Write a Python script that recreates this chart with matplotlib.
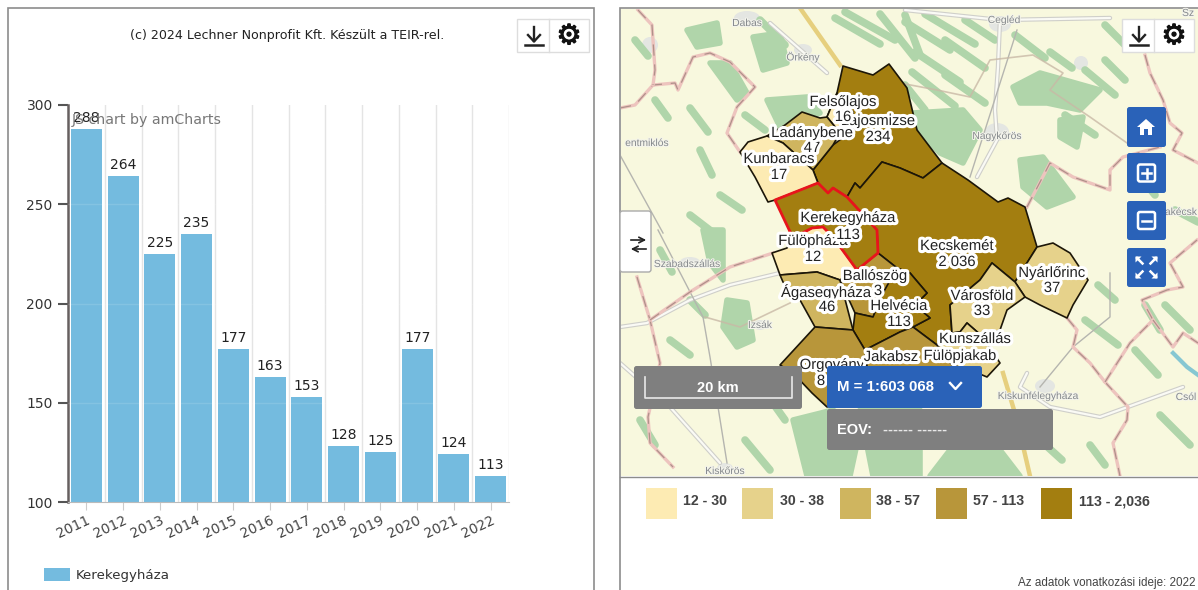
import matplotlib
matplotlib.use("Agg")
import matplotlib.pyplot as plt
import matplotlib.patheffects as pe
from matplotlib.patches import Rectangle, FancyBboxPatch, Polygon, Ellipse

# ----------------------------------------------------------
# Bar chart data
# ----------------------------------------------------------
years = ["2011", "2012", "2013", "2014", "2015", "2016",
         "2017", "2018", "2019", "2020", "2021", "2022"]
values = [288, 264, 225, 235, 177, 163, 153, 128, 125, 177, 124, 113]
y_ticks = [100, 150, 200, 250, 300]

# ----------------------------------------------------------
# Map legend
# ----------------------------------------------------------
legend_labels = ["12 - 30", "30 - 38", "38 - 57", "57 - 113", "113 - 2,036"]
legend_colors = ["#FDEBB3", "#E6D28B", "#CFB55F", "#B8963A", "#A37E10"]
C1, C2, C3, C4, C5 = legend_colors

# ----------------------------------------------------------
# Municipalities (outline in picture pixels, class colour)
# ----------------------------------------------------------
municipalities = [
    ("Lajosmizse", C5, [(843, 66), (873, 75), (889, 64), (907, 88), (917, 130), (942, 163), (923, 178),
                        (900, 168), (882, 162), (860, 188), (855, 183), (847, 197), (833, 188), (828, 193),
                        (818, 183), (813, 170), (833, 145), (853, 130), (827, 117), (837, 93)]),
    ("Felsolajos", C1, [(827, 117), (837, 93), (853, 112), (853, 130), (840, 133)]),
    ("Ladanybene", C3, [(785, 125), (802, 112), (820, 118), (827, 117), (840, 133), (833, 145), (813, 170),
                        (783, 143), (767, 136)]),
    ("Kunbaracs", C1, [(740, 152), (748, 142), (767, 136), (783, 143), (813, 170), (818, 183), (775, 200),
                       (768, 202), (755, 177)]),
    ("Kecskemet", C5, [(882, 162), (900, 168), (923, 178), (942, 163), (968, 180), (998, 202), (1008, 198),
                       (1025, 207), (1037, 247), (1015, 282), (992, 263), (980, 280), (950, 305), (952, 333),
                       (937, 345), (913, 327), (930, 318), (915, 305), (927, 293), (910, 273), (897, 268),
                       (878, 253), (877, 230), (847, 197), (855, 183), (860, 188)]),
    ("Fulophaza", C1, [(772, 253), (787, 248), (793, 238), (812, 228), (823, 227), (833, 237), (857, 270),
                       (840, 280), (817, 272), (780, 275)]),
    ("Agasegyhaza", C3, [(780, 275), (817, 272), (840, 280), (853, 330), (815, 327), (800, 300), (783, 282)]),
    ("Ballosz", C4, [(857, 270), (878, 253), (897, 268), (887, 290), (873, 317), (855, 313), (840, 280)]),
    ("Helvecia", C5, [(853, 330), (855, 313), (873, 317), (883, 293), (897, 268), (910, 273), (927, 293),
                      (915, 305), (930, 318), (913, 327), (900, 332), (865, 350)]),
    ("Nyarlorinc", C2, [(1037, 247), (1053, 243), (1070, 253), (1088, 280), (1073, 305), (1067, 318),
                        (1040, 305), (1025, 297), (1015, 282)]),
    ("Varosfold", C2, [(992, 263), (1015, 282), (1025, 297), (1007, 310), (1000, 330), (983, 337), (967, 323),
                       (960, 332), (952, 333), (950, 305), (980, 280)]),
    ("Kunszallas", C2, [(952, 333), (960, 332), (967, 323), (983, 337), (1000, 363), (987, 377), (975, 372),
                        (952, 365), (937, 345)]),
    ("Jakabszallas", C4, [(865, 350), (900, 332), (913, 327), (937, 345), (952, 365), (975, 372), (960, 395),
                          (870, 395)]),
    ("Orgovany", C4, [(780, 365), (815, 327), (853, 330), (865, 350), (870, 395), (827, 407), (812, 393),
                      (793, 373)]),
]
selected_outline = [(775, 200), (818, 183), (828, 193), (833, 188), (847, 197), (877, 230), (878, 253),
                    (857, 270), (833, 237), (823, 227), (812, 228), (793, 238)]

# name, x, y -- drawn in this order, later ones cover earlier ones
map_labels = [
    ("Lajosmizse", 878, 121), ("234", 878, 137),
    ("Felsőlajos", 843, 102), ("16", 843, 117),
    ("47", 812, 148), ("Ladánybene", 812, 133),
    ("Kunbaracs", 779, 159), ("17", 779, 175),
    ("Fülöpháza", 813, 241), ("12", 813, 257),
    ("Kerekegyháza", 848, 218), ("113", 848, 235),
    ("3", 878, 291), ("Ballószög", 875, 276),
    ("Ágasegyháza", 826, 292), ("46", 827, 307),
    ("Helvécia", 899, 306), ("113", 899, 322),
    ("Kecskemét", 957, 246), ("2 036", 957, 262),
    ("Nyárlőrinc", 1052, 273), ("37", 1052, 288),
    ("Városföld", 982, 296), ("33", 982, 311),
    ("Kunszállás", 975, 339),
    ("Orgovány", 832, 365), ("8", 821, 381),
    ("Jakabsz", 891, 357),
    ("Fülöpjakab", 960, 356),
]

place_names = [
    ("Dabas", 747, 23), ("Örkény", 803, 57), ("Cegléd", 1004, 20), ("Nagykőrös", 997, 136),
    ("Szabadszállás", 687, 264), ("Izsák", 760, 325), ("entmiklós", 647, 143),
    ("Kiskunfélegyháza", 1038, 396), ("Kiskőrös", 725, 471), ("Csól", 1186, 397),
    ("akécsk", 1181, 212), ("Sz", 1188, 13),
]

towns = [(747, 18, 26, 14), (803, 50, 18, 12), (1000, 24, 22, 16), (997, 132, 24, 18), (1081, 63, 14, 14),
         (690, 262, 20, 10), (760, 325, 14, 10), (1045, 386, 20, 14), (725, 468, 16, 10), (650, 45, 16, 16)]

forest = [
    [(687, 30), (717, 23), (720, 43), (697, 47)],
    [(710, 63), (730, 63), (747, 93), (737, 100)],
    [(753, 37), (780, 33), (787, 63), (763, 70)],
    [(767, 100), (807, 97), (820, 113), (780, 127)],
    [(913, 113), (963, 110), (980, 130), (963, 163), (940, 153), (920, 133)],
    [(1013, 87), (1040, 73), (1100, 90), (1080, 110), (1047, 103), (1020, 103)],
    [(1060, 120), (1083, 117), (1077, 147), (1060, 137)],
    [(1020, 160), (1043, 157), (1073, 197), (1047, 207), (1023, 187)],
    [(727, 300), (747, 303), (753, 340), (737, 347), (723, 327)],
    [(793, 420), (833, 410), (860, 430), (850, 476), (807, 476)],
    [(860, 410), (920, 410), (920, 476), (873, 476)],
    [(703, 230), (723, 230), (723, 280), (710, 263)],
    [(950, 450), (1000, 450), (1020, 476), (930, 476)],
]

# narrow wooded strips running north-west to south-east
forest_strips = [
    [(835, 18), (880, 44)], [(845, 12), (895, 40)], [(880, 14), (915, 58)], [(905, 15), (920, 55)],
    [(905, 22), (950, 50)], [(925, 14), (975, 44)], [(915, 52), (960, 82)], [(945, 40), (985, 68)],
    [(912, 72), (955, 106)], [(945, 75), (985, 103)], [(905, 85), (925, 110)], [(965, 20), (995, 40)],
    [(1015, 35), (1045, 58)], [(1050, 52), (1072, 68)], [(1105, 60), (1125, 80)], [(1105, 25), (1125, 45)],
    [(690, 108), (708, 132)], [(760, 20), (785, 45)], [(655, 100), (668, 118)], [(700, 150), (712, 175)],
    [(745, 115), (765, 130)], [(720, 195), (742, 210)], [(690, 215), (720, 238)], [(660, 250), (672, 272)],
    [(635, 40), (648, 56)], [(640, 420), (655, 445)], [(1085, 320), (1118, 345)], [(1098, 285), (1115, 300)],
    [(1145, 305), (1160, 330)], [(1135, 350), (1158, 375)], [(1165, 305), (1190, 330)], [(1175, 210), (1198, 222)],
    [(1040, 440), (1062, 460)], [(1090, 445), (1105, 465)], [(1160, 415), (1190, 445)], [(1135, 170), (1155, 195)],
    [(690, 300), (705, 315)], [(670, 340), (690, 355)], [(760, 385), (785, 420)], [(745, 440), (770, 470)],
    [(1065, 115), (1095, 135)], [(1085, 70), (1115, 95)],
]

borders = [
    [(620, 108), (635, 105), (653, 85), (675, 83), (678, 90), (693, 57), (710, 53), (730, 62), (755, 87),
     (737, 107), (727, 133), (740, 152)],
    [(638, 10), (652, 25), (655, 70), (653, 85)],
    [(1145, 55), (1150, 73), (1163, 100), (1170, 123), (1182, 133), (1173, 150), (1198, 163)],
    [(1027, 207), (1050, 163), (1073, 177), (1110, 190), (1110, 170), (1123, 157), (1160, 147)],
    [(1067, 318), (1077, 330), (1073, 347), (1090, 363), (1105, 382), (1128, 407), (1127, 420), (1113, 443),
     (1120, 476)],
    [(1105, 382), (1130, 343), (1153, 320), (1142, 300), (1167, 290), (1183, 287), (1170, 263), (1197, 240)],
    [(1153, 320), (1173, 347), (1183, 333), (1198, 343)],
    [(637, 277), (650, 320), (660, 363), (648, 417), (650, 443), (673, 467)],
    [(650, 320), (690, 292), (730, 267), (773, 253)],
]
minor_borders = [
    [(705, 317), (740, 327), (790, 303)],
    [(900, 83), (937, 90), (970, 97), (990, 60), (1033, 55), (1063, 73), (1050, 90), (1090, 117), (1127, 143)],
]

roads = [
    [(620, 327), (647, 323), (690, 300), (730, 285), (780, 273)],
    [(1000, 20), (998, 67), (995, 110), (997, 140), (977, 177)],
    [(1027, 373), (1020, 387), (1050, 407), (1100, 417), (1183, 387)],
    [(620, 363), (670, 407), (720, 463)],
    [(770, 23), (827, 73)],
    [(905, 10), (1000, 20), (1110, 18)],
]
rails = [
    [(658, 230), (703, 317), (710, 357), (727, 463)],
    [(620, 155), (663, 233)],
    [(1040, 387), (1073, 347), (1110, 317), (1110, 273)],
    [(1017, 30), (970, 177)],
]
motorways = [
    [(800, 8), (840, 65)],
    [(1003, 373), (1017, 420), (1030, 476)],
]
river = [(1173, 353), (1187, 367), (1198, 375)]

fig = plt.figure(figsize=(11.98, 5.90), dpi=100, facecolor="white")


def px_axes(x0, y0, x1, y1, **kw):
    # axes placed by picture pixels
    return fig.add_axes([x0 / 1198, (590 - y1) / 590, (x1 - x0) / 1198, (y1 - y0) / 590], **kw)


# ----------------------------------------------------------
# Page overlay (panels and widgets)
# ----------------------------------------------------------
page = px_axes(0, 0, 1198, 590)
page.set_xlim(0, 1198)
page.set_ylim(590, 0)
page.axis("off")
page.add_patch(Rectangle((8, 8), 586, 590, fc="white", ec="#8C8C8C", lw=1.2))
page.add_patch(Rectangle((620, 8), 590, 590, fc="white", ec="#8C8C8C", lw=1.2))

# ----------------------------------------------------------
# Bar chart
# ----------------------------------------------------------
ax = px_axes(68, 105, 509, 502, zorder=2)
ax.patch.set_alpha(0)
positions = list(range(len(years)))
bars = ax.bar(positions, values, width=0.84, color="#74BBDF", zorder=2)
for b, v in zip(bars, values):
    ax.annotate(str(v), (b.get_x() + b.get_width() / 2, v), xytext=(0, 3), textcoords="offset points",
                ha="center", va="bottom", fontsize=10, color="#222222", zorder=4)
ax.set_xlim(-0.5, 11.5)
ax.set_ylim(100, 300)
ax.set_yticks(y_ticks)
ax.set_xticks(positions)
ax.set_xticklabels(years, rotation=25, ha="right", rotation_mode="anchor", fontsize=10, color="#444444")
ax.set_xticks([p + 0.5 for p in positions], minor=True)
ax.tick_params(axis="x", which="major", length=6, color="#CCCCCC", pad=2)
ax.tick_params(axis="x", which="minor", length=0)
ax.tick_params(axis="y", length=7, width=1.5, color="#555555", labelsize=10, labelcolor="#333333", pad=4)
ax.grid(axis="x", which="minor", color="#E4E4E4", lw=1, zorder=1)
for y in y_ticks[1:-1]:
    ax.axhline(y, color="#FFFFFF", alpha=0.12, lw=1, zorder=3)
ax.spines["top"].set_visible(False)
ax.spines["right"].set_visible(False)
ax.spines["left"].set_color("#666060")
ax.spines["left"].set_linewidth(1.8)
ax.spines["bottom"].set_color("#BBBBBB")

page.text(287, 35, "(c) 2024 Lechner Nonprofit Kft. Készült a TEIR-rel.", ha="center", va="center",
          fontsize=9.1, color="#222222")
fig.text(72 / 1198, 1 - 120 / 590, "JS chart by amCharts", ha="left", va="center", fontsize=10.2,
         color="#777777", zorder=5)
page.add_patch(Rectangle((44, 568), 26, 13, fc="#74BBDF", ec="none"))
page.text(76, 575, "Kerekegyháza", ha="left", va="center", fontsize=9.6, color="#333333")

# ----------------------------------------------------------
# Map
# ----------------------------------------------------------
m = px_axes(621, 9, 1198, 476, zorder=1)
m.set_xlim(621, 1198)
m.set_ylim(476, 9)
m.set_xticks([])
m.set_yticks([])
m.set_facecolor("#F8F8DE")
for s in m.spines.values():
    s.set_visible(False)

for x, y, w, h in towns:
    m.add_patch(Ellipse((x, y), w, h, fc="#E4E6E2", ec="none", zorder=1))
for f in forest:
    m.add_patch(Polygon(f, closed=True, fc="#B0D5AA", ec="#B0D5AA", lw=4, joinstyle="round", zorder=1))
for s in forest_strips:
    m.plot(*zip(*s), color="#B0D5AA", lw=5.5, solid_capstyle="round", zorder=1)
m.plot(*zip(*river), color="#86C7D2", lw=3, zorder=2)
for r in roads:
    m.plot(*zip(*r), color="#CFCFCA", lw=3.2, zorder=2, solid_capstyle="round")
    m.plot(*zip(*r), color="#FAFAF5", lw=1.6, zorder=2, solid_capstyle="round")
for r in rails:
    m.plot(*zip(*r), color="#B5B5AF", lw=1, zorder=2)
for r in motorways:
    m.plot(*zip(*r), color="#E6CF7E", lw=3.2, zorder=2)
for b in borders:
    m.plot(*zip(*b), color="#EDC4BE", lw=2.4, zorder=3)
    m.plot(*zip(*b), color="#9A8078", lw=0.9, ls=(0, (9, 7)), alpha=0.75, zorder=3)
for b in minor_borders:
    m.plot(*zip(*b), color="#C9B9A6", lw=1.2, alpha=0.8, zorder=3)

for name, color, outline in municipalities:
    m.add_patch(Polygon(outline, closed=True, fc=color, ec="#1C1608", lw=1.2, joinstyle="round", zorder=4))
m.add_patch(Polygon(selected_outline, closed=True, fc=C5, ec="#E8141C", lw=2, joinstyle="round", zorder=5))

for name, x, y in place_names:
    m.text(x, y, name, ha="center", va="center", fontsize=7.4, color="#85898C", family="Liberation Sans",
           zorder=6, path_effects=[pe.withStroke(linewidth=1.5, foreground="#F4F4EC")])
for name, x, y in map_labels:
    m.text(x, y, name, ha="center", va="center", fontsize=10.7, color="#222222", family="Liberation Sans",
           zorder=7, path_effects=[pe.withStroke(linewidth=4.5, foreground="white")])

# ----------------------------------------------------------
# Widgets over the map
# ----------------------------------------------------------
over = px_axes(0, 0, 1198, 590, zorder=3)
over.set_xlim(0, 1198)
over.set_ylim(590, 0)
over.axis("off")


def round_box(x0, y0, x1, y1, fc, ec="none", r=2.5):
    over.add_patch(FancyBboxPatch((x0 + r, y0 + r), x1 - x0 - 2 * r, y1 - y0 - 2 * r,
                                  boxstyle=f"round,pad={r},rounding_size={r}", fc=fc, ec=ec, lw=1))


def tool_buttons(x):
    over.add_patch(Rectangle((x, 19), 72, 33, fc="white", ec="#DDDDDD", lw=1))
    over.plot([x + 32, x + 32], [19, 52], color="#DDDDDD", lw=1)
    over.plot([x + 17, x + 17], [27, 41], color="#222222", lw=1.7)
    over.plot([x + 11, x + 17, x + 23], [35, 41.5, 35], color="#222222", lw=1.7)
    over.plot([x + 8, x + 26], [45, 45], color="#222222", lw=1.8)
    over.text(x + 52, 36, "\u2699", ha="center", va="center", fontsize=20, color="#111111",
              family="DejaVu Sans", clip_on=True,
              path_effects=[pe.withStroke(linewidth=0.8, foreground="#111111")])


tool_buttons(517)
tool_buttons(1122)

# blue map buttons
button_rows = [(107, 147), (153, 193), (201, 240), (248, 287)]
for y0, y1 in button_rows:
    round_box(1127, y0, 1166, y1, "#2A62B8")
# home
over.add_patch(Polygon([(1137, 127), (1146, 119), (1155, 127), (1152, 127), (1152, 135), (1148, 135), (1148, 129),
                        (1144, 129), (1144, 135), (1140, 135), (1140, 127)], closed=True, fc="white", ec="none"))
# plus / minus
for (y0, y1), plus in zip(button_rows[1:3], [True, False]):
    cy = (y0 + y1) / 2
    over.add_patch(FancyBboxPatch((1138, cy - 8.5), 17, 17, boxstyle="round,pad=0,rounding_size=2", fc="none",
                                  ec="white", lw=1.8))
    over.plot([1142, 1151], [cy, cy], color="white", lw=1.8)
    if plus:
        over.plot([1146.5, 1146.5], [cy - 4.5, cy + 4.5], color="white", lw=1.8)
# full screen arrows
for sx, sy in [(-1, -1), (1, -1), (-1, 1), (1, 1)]:
    cx, cy = 1146.5 + sx * 6, 267.5 + sy * 6
    over.plot([cx - sx * 2, cx + sx * 3.5], [cy - sy * 2, cy + sy * 3.5], color="white", lw=1.8)
    over.add_patch(Polygon([(cx + sx * 5, cy + sy * 5), (cx - sx * 1, cy + sy * 5), (cx + sx * 5, cy - sy * 1)],
                           closed=True, fc="white", ec="none"))

# side toggle
round_box(620, 211, 651, 272, "white", ec="#AAAAAA")
over.annotate("", (649, 240), (628, 240), arrowprops=dict(arrowstyle="->", color="#222222", lw=1.2))
over.annotate("", (628, 249), (649, 249), arrowprops=dict(arrowstyle="->", color="#222222", lw=1.2))

# scale box
round_box(634, 366, 802, 409, "#7F7F7F")
over.plot([645, 645, 792, 792], [377, 398, 398, 377], color="#E8E8E8", lw=1.2)
over.text(718, 388, "20 km", ha="center", va="center", fontsize=10.5, fontweight="bold", color="white",
          family="Liberation Sans")

# scale selector and coordinates
round_box(827, 409, 1053, 450, "#7F7F7F")
round_box(827, 366, 982, 408, "#2A62B8")
over.text(837, 387, "M = 1:603 068", ha="left", va="center", fontsize=10.8, fontweight="bold", color="white",
          family="Liberation Sans")
over.plot([950, 955.5, 961], [383, 389, 383], color="white", lw=1.7)
over.text(837, 430, "EOV:", ha="left", va="center", fontsize=10.5, fontweight="bold", color="white",
          family="Liberation Sans")
over.text(883, 430, "------ ------", ha="left", va="center", fontsize=10.5, fontweight="bold", color="#E8E8E8",
          family="Liberation Sans")

# legend under the map
page.plot([620, 1198], [477, 477], color="#8C8C8C", lw=1)
swatch_x = [646, 742, 840, 936, 1041]
label_x = [683, 780, 876, 973, 1079]
for sx, lx, lab, col in zip(swatch_x, label_x, legend_labels, legend_colors):
    page.add_patch(Rectangle((sx, 488), 31, 31, fc=col, ec="none"))
    page.text(lx, 501, lab, ha="left", va="center", fontsize=10.2, fontweight="bold", color="#444444",
              family="Liberation Sans")
page.text(1196, 583, "Az adatok vonatkozási ideje: 2022", ha="right", va="center", fontsize=8.4,
          color="#444444", family="Liberation Sans")

fig.savefig("out.png", dpi=100)
